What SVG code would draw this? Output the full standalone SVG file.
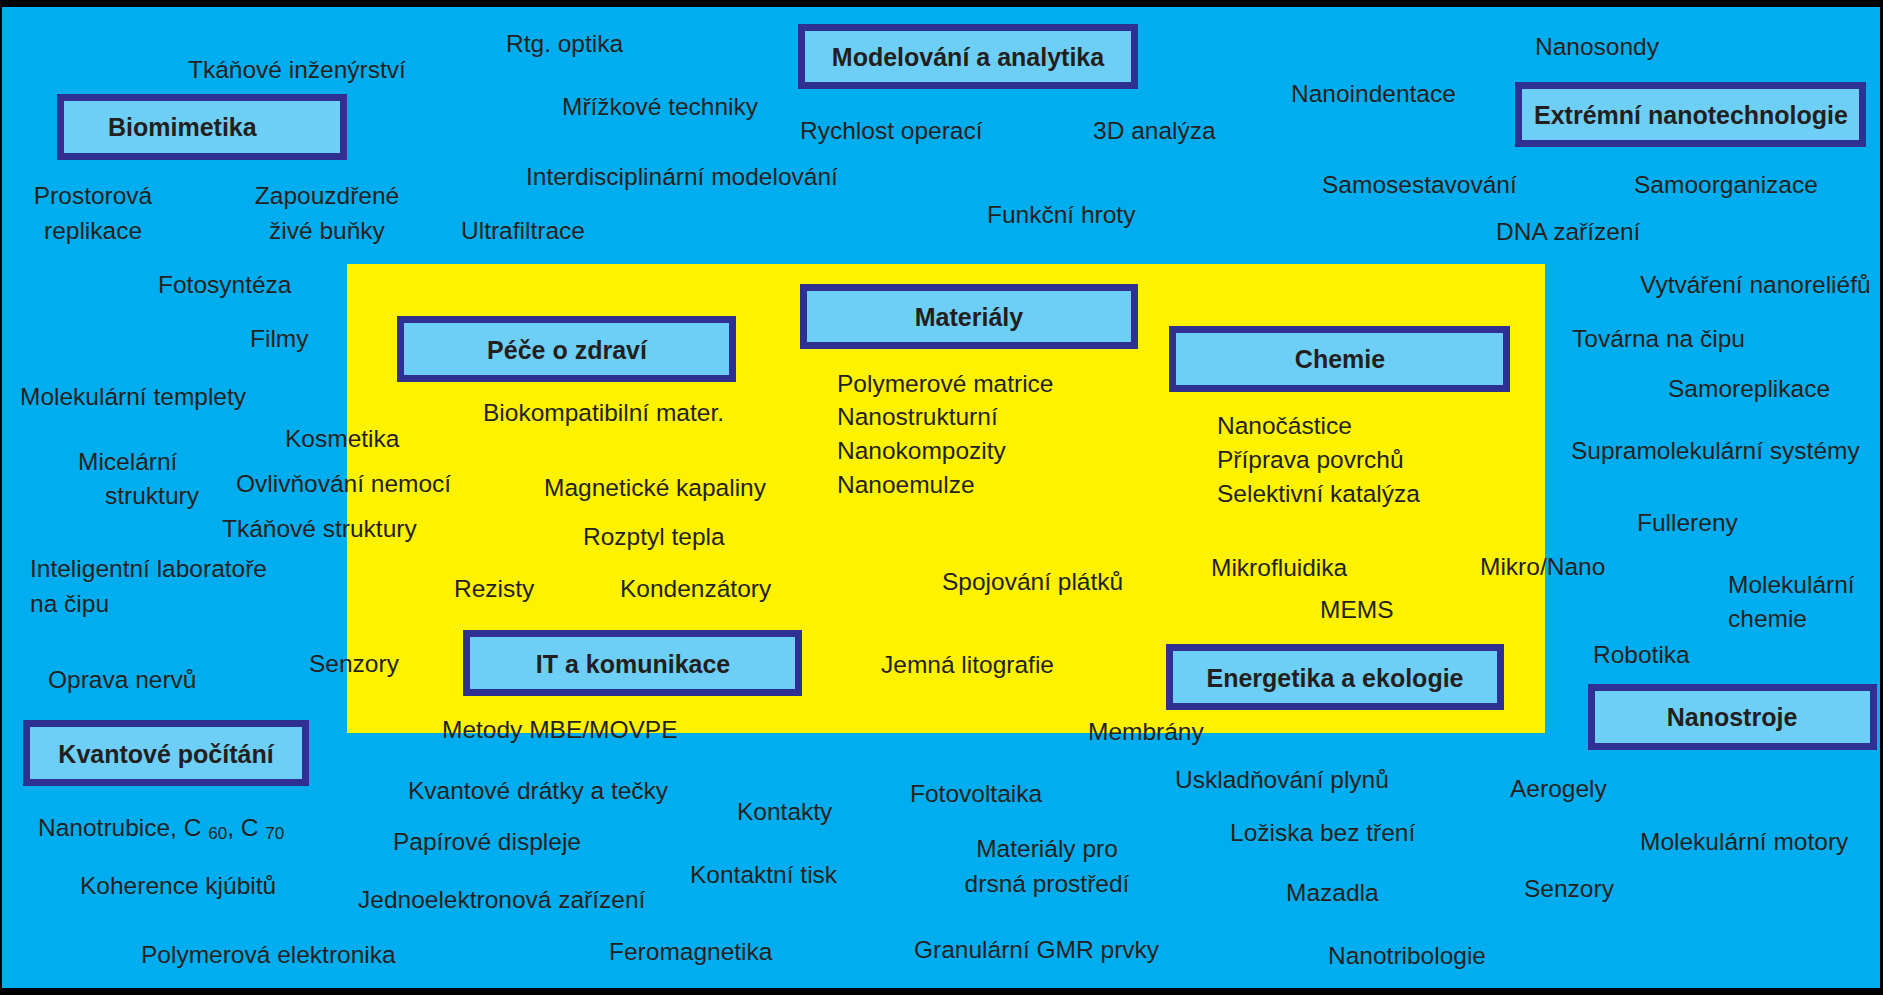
<svg xmlns="http://www.w3.org/2000/svg" width="1883" height="995" viewBox="0 0 1883 995">
<style>
.t{font-family:"Liberation Sans",Arial,Helvetica,sans-serif;font-size:24.5px;fill:#231f20}
.b{font-family:"Liberation Sans",Arial,Helvetica,sans-serif;font-size:25px;font-weight:bold;fill:#231f20}
.m{text-anchor:middle}
.box{fill:#6dcff6;stroke:#2e3192;stroke-width:7}
.sub{font-size:17px}
</style>
<rect x="0" y="0" width="1883" height="995" fill="#000"/>
<rect x="2" y="7" width="1878" height="981" fill="#00aeef"/>
<rect x="347" y="264" width="1198" height="469" fill="#fff200"/>
<g id="connectors"></g>
<g id="biomimetika"><rect class="box" x="60.5" y="97.5" width="283" height="59"/><text class="b" x="108" y="136">Biomimetika</text></g>
<g id="modelovani"><rect class="box" x="801.5" y="27.5" width="333" height="58"/><text class="b m" x="968" y="66">Modelování a analytika</text></g>
<g id="extremni"><rect class="box" x="1518.5" y="85.5" width="344" height="58"/><text class="b m" x="1691" y="124">Extrémní nanotechnologie</text></g>
<g id="materialy"><rect class="box" x="803.5" y="287.5" width="331" height="58"/><text class="b m" x="969" y="326">Materiály</text></g>
<g id="pece"><rect class="box" x="400.5" y="319.5" width="332" height="59"/><text class="b m" x="567" y="359">Péče o zdraví</text></g>
<g id="chemie"><rect class="box" x="1172.5" y="329.5" width="334" height="59"/><text class="b m" x="1340" y="368">Chemie</text></g>
<g id="it"><rect class="box" x="466.5" y="633.5" width="332" height="59"/><text class="b m" x="633" y="673">IT a komunikace</text></g>
<g id="energetika"><rect class="box" x="1169.5" y="647.5" width="331" height="59"/><text class="b m" x="1335" y="687">Energetika a ekologie</text></g>
<g id="nanostroje"><rect class="box" x="1591.5" y="687.5" width="282" height="59"/><text class="b m" x="1732" y="726">Nanostroje</text></g>
<g id="kvantove"><rect class="box" x="26.5" y="723.5" width="279" height="59"/><text class="b m" x="166" y="763">Kvantové počítání</text></g>
<g id="labels">
<text class="t" x="188" y="78">Tkáňové inženýrství</text>
<text class="t" x="506" y="52">Rtg. optika</text>
<text class="t" x="562" y="115">Mřížkové techniky</text>
<text class="t" x="800" y="139">Rychlost operací</text>
<text class="t" x="1093" y="139">3D analýza</text>
<text class="t" x="526" y="185">Interdisciplinární modelování</text>
<text class="t" x="461" y="239">Ultrafiltrace</text>
<text class="t" x="987" y="223">Funkční hroty</text>
<text class="t" x="1535" y="55">Nanosondy</text>
<text class="t" x="1291" y="102">Nanoindentace</text>
<text class="t" x="1322" y="193">Samosestavování</text>
<text class="t" x="1634" y="193">Samoorganizace</text>
<text class="t" x="1496" y="240">DNA zařízení</text>
<text class="t m" x="93" y="204">Prostorová</text>
<text class="t m" x="93" y="239">replikace</text>
<text class="t m" x="327" y="204">Zapouzdřené</text>
<text class="t m" x="327" y="239">živé buňky</text>
<text class="t" x="158" y="293">Fotosyntéza</text>
<text class="t" x="250" y="347">Filmy</text>
<text class="t" x="20" y="405">Molekulární templety</text>
<text class="t" x="285" y="447">Kosmetika</text>
<text class="t" x="78" y="470">Micelární</text>
<text class="t" x="105" y="504">struktury</text>
<text class="t" x="236" y="492">Ovlivňování nemocí</text>
<text class="t" x="222" y="537">Tkáňové struktury</text>
<text class="t" x="483" y="421">Biokompatibilní mater.</text>
<text class="t" x="544" y="496">Magnetické kapaliny</text>
<text class="t" x="583" y="545">Rozptyl tepla</text>
<text class="t" x="837" y="392">Polymerové matrice</text>
<text class="t" x="837" y="425">Nanostrukturní</text>
<text class="t" x="837" y="459">Nanokompozity</text>
<text class="t" x="837" y="493">Nanoemulze</text>
<text class="t" x="1217" y="434">Nanočástice</text>
<text class="t" x="1217" y="468">Příprava povrchů</text>
<text class="t" x="1217" y="502">Selektivní katalýza</text>
<text class="t" x="1640" y="293">Vytváření nanoreliéfů</text>
<text class="t" x="1572" y="347">Továrna na čipu</text>
<text class="t" x="1668" y="397">Samoreplikace</text>
<text class="t" x="1571" y="459">Supramolekulární systémy</text>
<text class="t" x="1637" y="531">Fullereny</text>
<text class="t" x="30" y="577">Inteligentní laboratoře</text>
<text class="t" x="30" y="612">na čipu</text>
<text class="t" x="1211" y="576">Mikrofluidika</text>
<text class="t" x="1480" y="575">Mikro/Nano</text>
<text class="t" x="942" y="590">Spojování plátků</text>
<text class="t" x="454" y="597">Rezisty</text>
<text class="t" x="620" y="597">Kondenzátory</text>
<text class="t" x="1728" y="593">Molekulární</text>
<text class="t" x="1728" y="627">chemie</text>
<text class="t" x="1320" y="618">MEMS</text>
<text class="t" x="1593" y="663">Robotika</text>
<text class="t" x="309" y="672">Senzory</text>
<text class="t" x="881" y="673">Jemná litografie</text>
<text class="t" x="48" y="688">Oprava nervů</text>
<text class="t" x="442" y="738">Metody MBE/MOVPE</text>
<text class="t" x="1088" y="740">Membrány</text>
<text class="t" x="1175" y="788">Uskladňování plynů</text>
<text class="t" x="408" y="799">Kvantové drátky a tečky</text>
<text class="t" x="1510" y="797">Aerogely</text>
<text class="t" x="910" y="802">Fotovoltaika</text>
<text class="t" x="737" y="820">Kontakty</text>
<text class="t" x="38" y="836">Nanotrubice, C <tspan class="sub" dy="3">60</tspan><tspan dy="-3">, C </tspan><tspan class="sub" dy="3">70</tspan></text>
<text class="t" x="1230" y="841">Ložiska bez tření</text>
<text class="t" x="393" y="850">Papírové displeje</text>
<text class="t" x="1640" y="850">Molekulární motory</text>
<text class="t m" x="1047" y="857">Materiály pro</text>
<text class="t m" x="1047" y="892">drsná prostředí</text>
<text class="t" x="690" y="883">Kontaktní tisk</text>
<text class="t" x="80" y="894">Koherence kjúbitů</text>
<text class="t" x="1524" y="897">Senzory</text>
<text class="t" x="1286" y="901">Mazadla</text>
<text class="t" x="358" y="908">Jednoelektronová zařízení</text>
<text class="t" x="914" y="958">Granulární GMR prvky</text>
<text class="t" x="141" y="963">Polymerová elektronika</text>
<text class="t" x="609" y="960">Feromagnetika</text>
<text class="t" x="1328" y="964">Nanotribologie</text>
</g>
</svg>
